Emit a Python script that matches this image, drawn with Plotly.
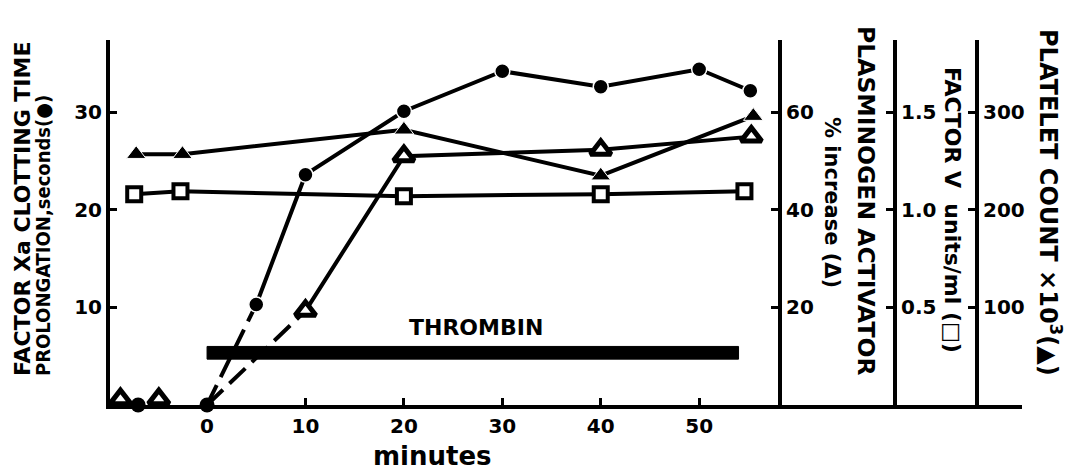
import plotly.graph_objects as go

# ---------------- data ----------------
# Factor Xa clotting time prolongation, seconds (filled circles)
xa_pre_min = [-7]
xa_pre_val = [0]
xa_min = [0, 5, 10, 20, 30, 40, 50, 55.2]
xa_val = [0, 10.3, 23.6, 30.1, 34.2, 32.6, 34.4, 32.2]

# Plasminogen activator, % increase (open triangles)
pa_pre_min = [-8.8, -4.9]
pa_pre_val = [1.2, 1.2]
pa_min = [0, 10, 20, 40, 55.3]
pa_val = [0, 19.3, 51, 52.3, 55]

# Factor V, units/ml (open squares)
fv_min = [-7.4, -2.7, 20, 40, 54.6]
fv_val = [1.08, 1.095, 1.07, 1.08, 1.095]

# Platelet count x10^3 (filled triangles)
pl_min = [-7.2, -2.5, 20, 40, 55.5]
pl_val = [257, 257, 282, 235, 296]

# Thrombin infusion period (minutes) and bar level (left-axis units)
thrombin_start, thrombin_end = 0, 54
thrombin_lo, thrombin_hi = 4.7, 6.0

x_ticks = [0, 10, 20, 30, 40, 50]
xa_ticks = [10, 20, 30]
pa_ticks = [20, 40, 60]
fv_ticks = [0.5, 1.0, 1.5]
fv_ticktext = ["0.5", "1.0", "1.5"]
pl_ticks = [100, 200, 300]

# ---------------- geometry ----------------
W, H = 1073, 473
ML, MR, MT, MB = 110, 51, 40, 68
PW, PH = W - ML - MR, H - MT - MB


def px(p):
    return (p - ML) / PW


def py(p):
    return (H - MB - p) / PH


FONT_C = "DejaVu Sans Condensed, DejaVu Sans, sans-serif"
FONT_W = "DejaVu Sans, sans-serif"
LW = 4

fig = go.Figure()

# Factor Xa: dashed 0->5, solid afterwards
fig.add_trace(go.Scatter(x=xa_min[:2], y=xa_val[:2], mode="lines",
                         line=dict(color="black", width=LW, dash="22px,9px"),
                         yaxis="y", showlegend=False, cliponaxis=False))
fig.add_trace(go.Scatter(x=xa_min[1:], y=xa_val[1:], mode="lines+markers",
                         line=dict(color="black", width=LW),
                         marker=dict(symbol="circle", size=15, color="black",
                                     line=dict(color="white", width=1.5)),
                         yaxis="y", showlegend=False, cliponaxis=False))
fig.add_trace(go.Scatter(x=[xa_min[0]] + xa_pre_min, y=[xa_val[0]] + xa_pre_val, mode="markers",
                         marker=dict(symbol="circle", size=15, color="black"),
                         yaxis="y", showlegend=False, cliponaxis=False))

# Plasminogen activator: dashed 0->10, solid afterwards
fig.add_trace(go.Scatter(x=pa_min[:2], y=pa_val[:2], mode="lines",
                         line=dict(color="black", width=LW, dash="22px,9px"),
                         yaxis="y2", showlegend=False, cliponaxis=False))
fig.add_trace(go.Scatter(x=pa_min[1:], y=pa_val[1:], mode="lines+markers",
                         line=dict(color="black", width=LW),
                         marker=dict(symbol="triangle-up", size=18, color="white",
                                     line=dict(color="black", width=5)),
                         yaxis="y2", showlegend=False, cliponaxis=False))
fig.add_trace(go.Scatter(x=pa_pre_min, y=pa_pre_val, mode="markers",
                         marker=dict(symbol="triangle-up", size=18, color="white",
                                     line=dict(color="black", width=5)),
                         yaxis="y2", showlegend=False, cliponaxis=False))

# Factor V
fig.add_trace(go.Scatter(x=fv_min, y=fv_val, mode="lines+markers",
                         line=dict(color="black", width=LW),
                         marker=dict(symbol="square", size=14, color="white",
                                     line=dict(color="black", width=4)),
                         yaxis="y3", showlegend=False, cliponaxis=False))

# Platelets
fig.add_trace(go.Scatter(x=pl_min, y=pl_val, mode="lines+markers",
                         line=dict(color="black", width=LW),
                         marker=dict(symbol="triangle-up", size=17, color="black",
                                     line=dict(color="white", width=1)),
                         yaxis="y4", showlegend=False, cliponaxis=False))

# Thrombin bar
fig.add_shape(type="rect", xref="x", yref="y",
              x0=thrombin_start, x1=thrombin_end, y0=thrombin_lo, y1=thrombin_hi,
              fillcolor="black", line=dict(color="black", width=1))

left_top = 37.4
tickfont = dict(family=FONT_W, size=20, color="black", weight="bold")
common_y = dict(showgrid=False, zeroline=False, showline=True, linecolor="black",
                linewidth=LW, ticks="inside", ticklen=7, tickwidth=3, tickcolor="black",
                tickfont=tickfont)

fig.update_layout(
    width=W, height=H,
    margin=dict(l=ML, r=MR, t=MT, b=MB),
    paper_bgcolor="white", plot_bgcolor="white",
    xaxis=dict(range=[-9.86, 82.8], tickvals=x_ticks, showgrid=False, zeroline=False,
               showline=True, linecolor="black", linewidth=LW, ticks="inside",
               ticklen=7, tickwidth=3, tickcolor="black", tickfont=tickfont),
    yaxis=dict(range=[0, left_top], tickvals=xa_ticks, **common_y),
    yaxis2=dict(range=[0, left_top * 2], tickvals=pa_ticks, overlaying="y",
                side="right", anchor="free", position=px(780), **common_y),
    yaxis3=dict(range=[0, left_top / 20], tickvals=fv_ticks, ticktext=fv_ticktext,
                overlaying="y", side="right", anchor="free", position=px(895), **common_y),
    yaxis4=dict(range=[0, left_top * 10], tickvals=pl_ticks, overlaying="y",
                side="right", anchor="free", position=px(977), **common_y),
)

ann = []


def add_text(text, x, y, size, angle=0, family=FONT_W):
    ann.append(dict(text=text, x=px(x), y=py(y), xref="paper", yref="paper",
                    showarrow=False, textangle=angle, xanchor="center", yanchor="middle",
                    font=dict(family=family, size=size, color="black", weight="bold")))


add_text("FACTOR Xa CLOTTING TIME", 22, 209, 22, angle=-90)
add_text("PROLONGATION,seconds(●)", 43, 236, 20, angle=-90, family=FONT_C)
add_text("PLASMINOGEN ACTIVATOR", 866, 201, 23.5, angle=90)
add_text("% increase (Δ)", 832, 202, 21, angle=90)
add_text("FACTOR V  units/ml (□)", 953, 210, 22, angle=90)
add_text("PLATELET COUNT ×10<sup>3</sup>(▲)", 1050, 202, 24, angle=90)
add_text("minutes", 432, 456, 26)
add_text("THROMBIN", 476, 327, 22)

fig.update_layout(annotations=ann)

fig.write_html("out.html")
